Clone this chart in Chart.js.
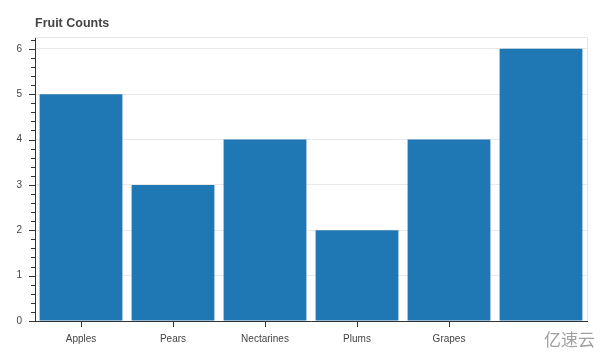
<!DOCTYPE html>
<html>
<head>
<meta charset="utf-8">
<script src="https://cdn.jsdelivr.net/npm/chart.js@4.4.0/dist/chart.umd.min.js"></script>
<style>
  html, body { margin: 0; padding: 0; background: #fff; }
  #wrap { width: 600px; height: 363px; position: relative; }
</style>
</head>
<body>
<div id="wrap"><canvas id="chart-bars"></canvas></div>
<script>
// data
var fruits = ['Apples', 'Pears', 'Nectarines', 'Plums', 'Grapes', ''];
var counts = [5, 3, 4, 2, 4, 6];
var yTicks = [0, 1, 2, 3, 4, 5, 6];

var barColor = '#1f77b4';
var textColor = '#444444';
var axisColor = '#333333';

// bokeh-ish ticks, frame, title, watermark
var bokehLook = {
    id: 'bokehLook',
    afterDraw: function (chart) {
        var ctx = chart.ctx;
        var area = chart.chartArea;
        var ys = chart.scales.y;
        var xs = chart.scales.x;
        ctx.save();

        // frame (top + right)
        ctx.strokeStyle = '#e6e6e6';
        ctx.lineWidth = 1;
        ctx.beginPath();
        ctx.moveTo(area.left, area.top + 0.5);
        ctx.lineTo(area.right + 0.5, area.top + 0.5);
        ctx.lineTo(area.right + 0.5, area.bottom);
        ctx.stroke();

        // y major + minor ticks
        ctx.strokeStyle = axisColor;
        ctx.beginPath();
        for (var v = 0; v <= ys.max + 1e-9; v += 0.2) {
            var py = Math.round(ys.getPixelForValue(v)) + 0.5;
            var major = Math.abs(v - Math.round(v)) < 1e-6;
            var len = major ? 6 : 4;
            ctx.moveTo(area.left - len, py);
            ctx.lineTo(area.left, py);
        }
        // x ticks
        for (var i = 0; i < fruits.length - 1; i++) {
            var px = Math.round(xs.getPixelForValue(i)) + 0.5;
            ctx.moveTo(px, area.bottom);
            ctx.lineTo(px, area.bottom + 6);
        }
        ctx.stroke();

        // title
        ctx.fillStyle = textColor;
        ctx.font = 'bold 12.5px "Liberation Sans", Arial, sans-serif';
        ctx.textBaseline = 'middle';
        ctx.textAlign = 'left';
        ctx.fillText('Fruit Counts', area.left, 24);

        // watermark
        ctx.fillStyle = '#a0a0a0';
        ctx.font = '17px "Noto Sans CJK SC", sans-serif';
        ctx.fillText('亿速云', 544, 340);
        ctx.restore();
    }
};

var ordersChart = new Chart(document.getElementById('chart-bars'), {
    type: 'bar',
    data: {
        labels: fruits,
        datasets: [{
            label: 'Counts',
            data: counts,
            backgroundColor: barColor,
            borderWidth: 0,
            categoryPercentage: 1.0,
            barPercentage: 0.9
        }]
    },
    options: {
        responsive: true,
        maintainAspectRatio: false,
        animation: false,
        layout: { padding: { top: 37, right: 13, left: 0, bottom: 0 } },
        plugins: {
            legend: { display: false },
            tooltip: { enabled: false }
        },
        scales: {
            x: {
                offset: true,
                grid: { display: false, drawTicks: false },
                border: { display: true, color: axisColor, width: 1 },
                ticks: {
                    color: textColor,
                    padding: 12,
                    maxRotation: 0,
                    autoSkip: false,
                    font: { size: 10, family: '"Liberation Sans", Arial, sans-serif' }
                },
                afterFit: function (scale) { scale.height = 42; }
            },
            y: {
                min: 0,
                max: 6.26,
                afterBuildTicks: function (scale) {
                    scale.ticks = yTicks.map(function (v) { return { value: v }; });
                },
                grid: { color: '#e9e9e9', drawTicks: false },
                border: { display: true, color: axisColor, width: 1 },
                ticks: {
                    color: textColor,
                    padding: 13,
                    font: { size: 10, family: '"Liberation Sans", Arial, sans-serif' }
                },
                afterFit: function (scale) { scale.width = 35; }
            }
        }
    },
    plugins: [bokehLook]
});
</script>
</body>
</html>
